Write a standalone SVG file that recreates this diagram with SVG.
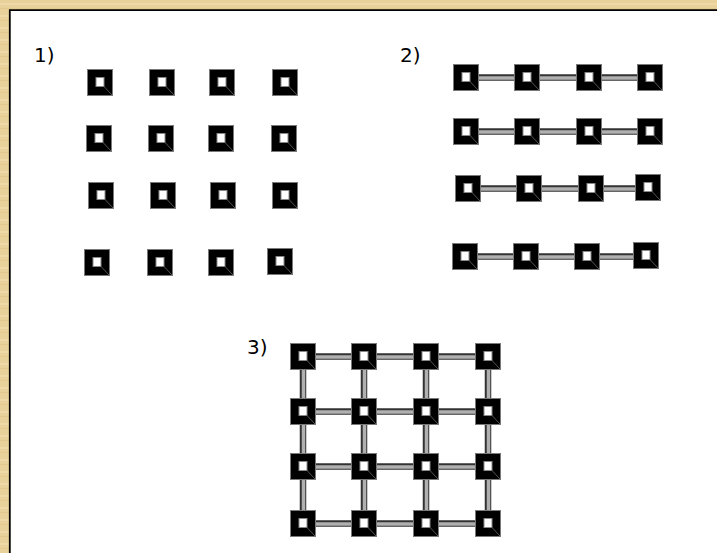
<svg xmlns="http://www.w3.org/2000/svg" xmlns:xlink="http://www.w3.org/1999/xlink" width="717" height="553" viewBox="0 0 717 553">
<defs>
<style>
.lbl{font-family:"DejaVu Sans",Verdana,sans-serif;font-size:20px;fill:#000}
.cOut{stroke:#333;stroke-width:6.5;fill:none}
.cIn{stroke:#b0b0b0;stroke-width:3.5;fill:none}
</style>
<pattern id="paper" width="40" height="12" patternUnits="userSpaceOnUse">
<rect width="40" height="12" fill="#e9d19b"/>
<rect y="3" width="40" height="2" fill="#f0dcaa" opacity="0.8"/>
<rect y="8" width="40" height="1" fill="#dfc388" opacity="0.6"/>
</pattern>
<g id="node">
<rect x="0.5" y="0.5" width="25" height="26" fill="#000" stroke="#7a7a7a" stroke-width="1"/>
<rect x="9" y="8.5" width="8" height="9" fill="#fff" stroke="#888" stroke-width="1"/>
<line x1="17" y1="17.5" x2="25" y2="26" stroke="#555" stroke-width="1"/>
</g>
</defs>
<rect width="717" height="553" fill="url(#paper)"/>
<rect x="10" y="11" width="707" height="542" fill="#fff"/>
<path d="M9.8 553 V10.2 H717" fill="none" stroke="#000" stroke-width="1.8"/>

<text class="lbl" x="34" y="62">1)</text>
<text class="lbl" x="400" y="62">2)</text>
<text class="lbl" x="247" y="354">3)</text>

<g id="connectors">
<path class="cOut" d="M466 77.5H650 M466 131.5H650 M468 188.5H648 M465 256.5H646"/>
<path class="cIn" d="M466 78H650 M466 132H650 M468 189H648 M465 257H646"/>
<path class="cOut" d="M303 356.5H488 M303 411.5H488 M303 466.5H488 M303 523.5H488 M303 356.5V523.5 M364 356.5V523.5 M426 356.5V523.5 M488 356.5V523.5"/>
<path class="cIn" d="M303 357H488 M303 412H488 M303 467H488 M303 524H488 M303.5 356.5V523.5 M364.5 356.5V523.5 M426.5 356.5V523.5 M488.5 356.5V523.5"/>
</g>

<g id="grid1">
<g id="a11"><use xlink:href="#node" x="87" y="69"/></g>
<g id="a12"><use xlink:href="#node" x="149" y="69"/></g>
<g id="a13"><use xlink:href="#node" x="209" y="69"/></g>
<g id="a14"><use xlink:href="#node" x="272" y="69"/></g>
<g id="a21"><use xlink:href="#node" x="86" y="125"/></g>
<g id="a22"><use xlink:href="#node" x="148" y="125"/></g>
<g id="a23"><use xlink:href="#node" x="208" y="125"/></g>
<g id="a24"><use xlink:href="#node" x="271" y="125"/></g>
<g id="a31"><use xlink:href="#node" x="88" y="182"/></g>
<g id="a32"><use xlink:href="#node" x="150" y="182"/></g>
<g id="a33"><use xlink:href="#node" x="210" y="182"/></g>
<g id="a34"><use xlink:href="#node" x="272" y="182"/></g>
<g id="a41"><use xlink:href="#node" x="84" y="249"/></g>
<g id="a42"><use xlink:href="#node" x="147" y="249"/></g>
<g id="a43"><use xlink:href="#node" x="208" y="249"/></g>
<g id="a44"><use xlink:href="#node" x="267" y="248"/></g>
</g>

<g id="grid2">
<g id="b11"><use xlink:href="#node" x="453" y="64"/></g>
<g id="b12"><use xlink:href="#node" x="514" y="64"/></g>
<g id="b13"><use xlink:href="#node" x="576" y="64"/></g>
<g id="b14"><use xlink:href="#node" x="637" y="64"/></g>
<g id="b21"><use xlink:href="#node" x="453" y="118"/></g>
<g id="b22"><use xlink:href="#node" x="514" y="118"/></g>
<g id="b23"><use xlink:href="#node" x="576" y="118"/></g>
<g id="b24"><use xlink:href="#node" x="637" y="118"/></g>
<g id="b31"><use xlink:href="#node" x="455" y="175"/></g>
<g id="b32"><use xlink:href="#node" x="516" y="175"/></g>
<g id="b33"><use xlink:href="#node" x="578" y="175"/></g>
<g id="b34"><use xlink:href="#node" x="635" y="174"/></g>
<g id="b41"><use xlink:href="#node" x="452" y="243"/></g>
<g id="b42"><use xlink:href="#node" x="513" y="243"/></g>
<g id="b43"><use xlink:href="#node" x="574" y="243"/></g>
<g id="b44"><use xlink:href="#node" x="633" y="242"/></g>
</g>

<g id="grid3">
<g id="c11"><use xlink:href="#node" x="290" y="343"/></g>
<g id="c12"><use xlink:href="#node" x="351" y="343"/></g>
<g id="c13"><use xlink:href="#node" x="413" y="343"/></g>
<g id="c14"><use xlink:href="#node" x="475" y="343"/></g>
<g id="c21"><use xlink:href="#node" x="290" y="398"/></g>
<g id="c22"><use xlink:href="#node" x="351" y="398"/></g>
<g id="c23"><use xlink:href="#node" x="413" y="398"/></g>
<g id="c24"><use xlink:href="#node" x="475" y="398"/></g>
<g id="c31"><use xlink:href="#node" x="290" y="453"/></g>
<g id="c32"><use xlink:href="#node" x="351" y="453"/></g>
<g id="c33"><use xlink:href="#node" x="413" y="453"/></g>
<g id="c34"><use xlink:href="#node" x="475" y="453"/></g>
<g id="c41"><use xlink:href="#node" x="290" y="510"/></g>
<g id="c42"><use xlink:href="#node" x="351" y="510"/></g>
<g id="c43"><use xlink:href="#node" x="413" y="510"/></g>
<g id="c44"><use xlink:href="#node" x="475" y="510"/></g>
</g>
</svg>
